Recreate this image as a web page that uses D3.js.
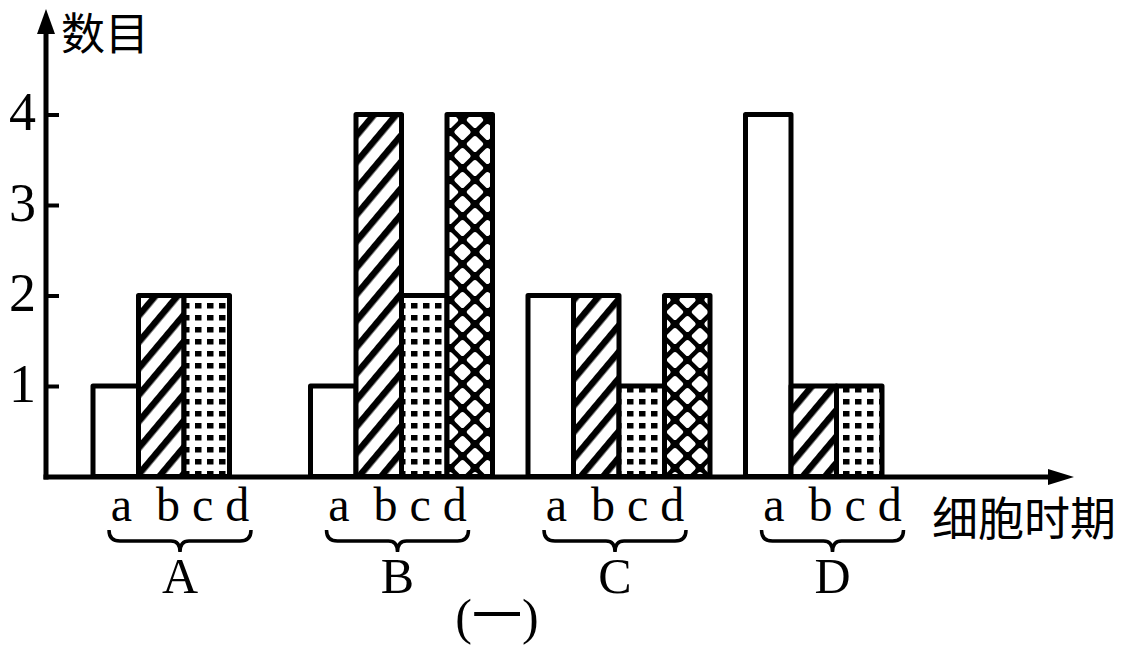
<!DOCTYPE html>
<html>
<head>
<meta charset="utf-8">
<script src="https://cdn.jsdelivr.net/npm/d3@7/dist/d3.min.js"></script>
<style>
  html, body { margin: 0; padding: 0; background: #fff; }
  svg { display: block; }
  text { fill: #000; }
</style>
</head>
<body>
<svg id="chart" width="1127" height="653"></svg>
<script>
// ---- data ----
const groups = ["A", "B", "C", "D"];
const series = ["a", "b", "c", "d"];
const valuesA = [1, 2, 2, null];
const valuesB = [1, 4, 2, 4];
const valuesC = [2, 2, 1, 2];
const valuesD = [4, 1, 1, null];
const yTicks = [1, 2, 3, 4];
const yTitle = "数目";
const xTitle = "细胞时期";
const caption = "(一)";
const subLabel = "a  b c d";

const table = [valuesA, valuesB, valuesC, valuesD];
const rows = [];
groups.forEach((g, gi) => series.forEach((s, si) => {
  const v = table[gi][si];
  if (v !== null && v > 0) rows.push({ g, s, v });
}));

// ---- layout ----
const svg = d3.select("#chart");
const axisX = 46, axisY = 477;
const x = d3.scaleBand().domain(groups).range([93, 93 + 4 * 217.5]).padding(0);
const xi = d3.scaleBand().domain(series).range([0, 182]).padding(0);
const y = d3.scaleLinear().domain([0, 4]).range([476.5, 114.5]);

// ---- patterns ----
const defs = svg.append("defs");
// diagonal stripes
const pb = defs.append("pattern").attr("id", "pat-b").attr("patternUnits", "userSpaceOnUse")
  .attr("width", 17).attr("height", 17).attr("patternTransform", "rotate(40)");
pb.append("rect").attr("width", 17).attr("height", 17).attr("fill", "#fff");
pb.append("rect").attr("x", 0).attr("width", 6.5).attr("height", 17).attr("fill", "#000");
// dotted squares
const pc = defs.append("pattern").attr("id", "pat-c").attr("patternUnits", "userSpaceOnUse")
  .attr("width", 12).attr("height", 12);
pc.append("rect").attr("width", 12).attr("height", 12).attr("fill", "#fff");
pc.append("rect").attr("x", 3).attr("y", 3).attr("width", 6.5).attr("height", 5.5).attr("fill", "#000");
// black lattice with white holes
const pd = defs.append("pattern").attr("id", "pat-d").attr("patternUnits", "userSpaceOnUse")
  .attr("width", 25).attr("height", 24);
pd.append("rect").attr("width", 25).attr("height", 24).attr("fill", "#000");
[[0, 0], [25, 0], [12.5, 12], [0, 24], [25, 24]].forEach(([cx, cy]) =>
  pd.append("path")
    .attr("d", `M${cx},${cy - 5.4} L${cx + 5.6},${cy} L${cx},${cy + 5.4} L${cx - 5.6},${cy} Z`)
    .attr("fill", "#fff").attr("stroke", "#fff").attr("stroke-width", 5).attr("stroke-linejoin", "round"));

const fills = { a: "#fff", b: "url(#pat-b)", c: "url(#pat-c)", d: "url(#pat-d)" };

// ---- bars ----
svg.append("g").selectAll("rect").data(rows).join("rect")
  .attr("x", d => x(d.g) + xi(d.s))
  .attr("y", d => y(d.v))
  .attr("width", xi.bandwidth())
  .attr("height", d => y(0) - y(d.v))
  .attr("fill", d => fills[d.s])
  .attr("stroke", "#000")
  .attr("stroke-width", 5)
  .attr("stroke-linejoin", "round");

// ---- axes ----
svg.append("line").attr("x1", axisX).attr("x2", axisX).attr("y1", 30).attr("y2", axisY + 2.5)
  .attr("stroke", "#000").attr("stroke-width", 5);
svg.append("path").attr("d", `M${axisX},9 L${axisX - 9},34 L${axisX + 9},34 Z`).attr("fill", "#000");
svg.append("line").attr("x1", axisX - 2.5).attr("x2", 1052).attr("y1", axisY).attr("y2", axisY)
  .attr("stroke", "#000").attr("stroke-width", 5);
svg.append("path").attr("d", `M1074,${axisY} L1048,${axisY - 8} L1048,${axisY + 8} Z`).attr("fill", "#000");

const yAxis = svg.append("g").attr("transform", `translate(${axisX},0)`)
  .call(d3.axisLeft(y).tickValues(yTicks).tickFormat(d3.format("d"))
    .tickSizeInner(-13).tickSizeOuter(0).tickPadding(10));
yAxis.select(".domain").remove();
yAxis.selectAll(".tick line").attr("stroke", "#000").attr("stroke-width", 4);
yAxis.selectAll(".tick text")
  .attr("dy", 15)
  .attr("font-family", "'Liberation Serif', 'Times New Roman', serif")
  .attr("font-size", 54)
  .attr("fill", "#000");

// ---- group labels ----
const labelOffset = 87;
const gl = svg.append("g").selectAll("g").data(groups).join("g")
  .attr("transform", g => `translate(${x(g) + labelOffset},0)`);
gl.append("text")
  .attr("x", 0).attr("y", 521)
  .attr("text-anchor", "middle")
  .attr("font-family", "'Liberation Serif', 'Times New Roman', serif")
  .attr("font-size", 48)
  .style("white-space", "pre")
  .text(subLabel);
gl.append("path")
  .attr("d", "M-71,530 Q-71,541 -60,541 L-9,541 Q0,541 0,552 Q0,541 9,541 L60,541 Q71,541 71,530")
  .attr("fill", "none").attr("stroke", "#000").attr("stroke-width", 3.5);
gl.append("text")
  .attr("x", 0).attr("y", 593)
  .attr("text-anchor", "middle")
  .attr("font-family", "'Liberation Serif', 'Times New Roman', serif")
  .attr("font-size", 50)
  .text(g => g);

// ---- titles ----
svg.append("text").attr("x", 61).attr("y", 50)
  .attr("font-family", "'Noto Sans CJK SC', sans-serif").attr("font-size", 44)
  .text(yTitle);
svg.append("text").attr("x", 932).attr("y", 535)
  .attr("font-family", "'Noto Sans CJK SC', sans-serif").attr("font-size", 46)
  .text(xTitle);
svg.append("text").attr("x", 497).attr("y", 634).attr("text-anchor", "middle")
  .attr("font-family", "'Liberation Serif', 'Noto Sans CJK SC', serif").attr("font-size", 50)
  .text(caption);
</script>
</body>
</html>
